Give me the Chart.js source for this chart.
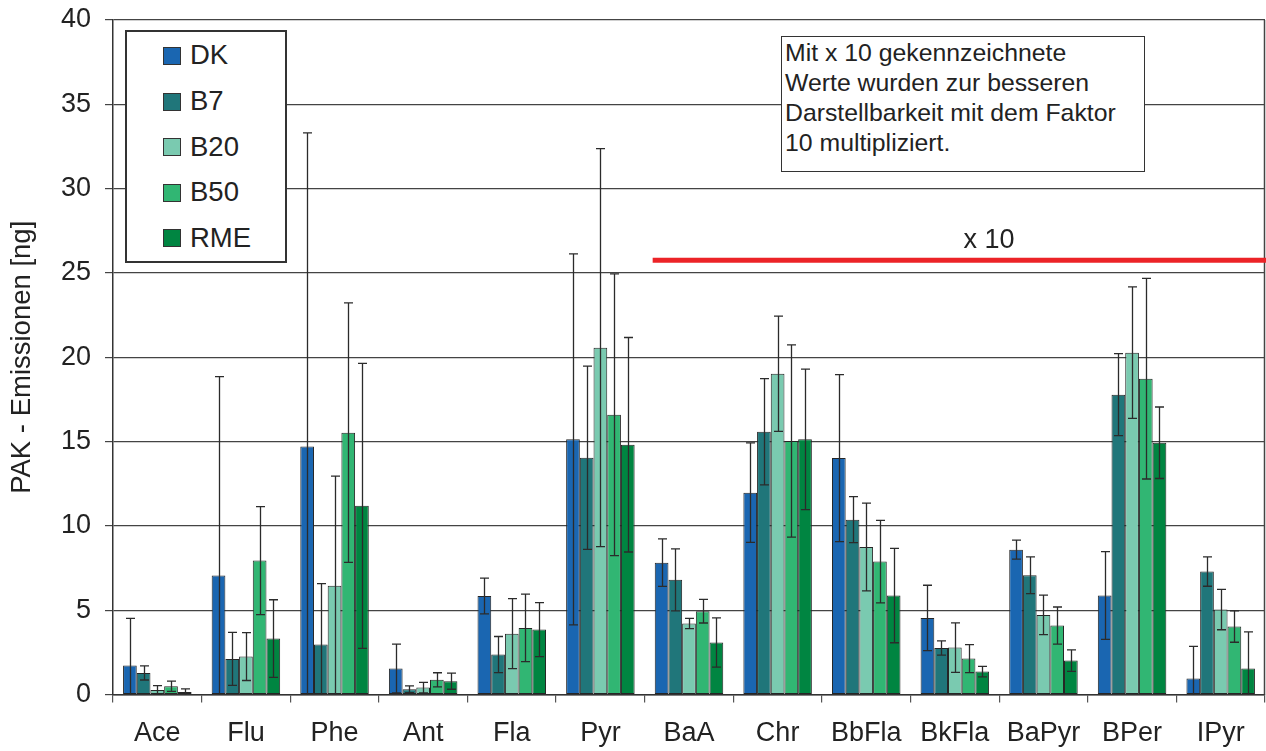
<!DOCTYPE html>
<html>
<head>
<meta charset="utf-8">
<script src="https://cdn.jsdelivr.net/npm/chart.js@4.4.1/dist/chart.umd.min.js"></script>
<style>
  html,body{margin:0;padding:0;background:#fff;}
  #wrap{position:relative;width:1266px;height:751px;overflow:hidden;font-family:"Liberation Sans",Arial,Helvetica,sans-serif;color:#222;}
  canvas{position:absolute;left:0;top:0;}
  .abs{position:absolute;}
  #legend{left:125px;top:30px;width:162px;height:233px;box-sizing:border-box;border:2px solid #333;background:#fff;}
  .sw{position:absolute;width:18px;height:18px;box-sizing:border-box;border:1px solid #333;}
  .lt{position:absolute;font-size:27.5px;line-height:27px;white-space:nowrap;}
  #note{left:781px;top:36px;width:364px;height:136px;box-sizing:border-box;border:1.5px solid #333;background:#fff;}
  #notetext{left:785px;top:38px;font-size:24.8px;line-height:30px;white-space:nowrap;}
</style>
</head>
<body>
<div id="wrap">
  <canvas id="c" width="1266" height="751"></canvas>
  <div id="legend" class="abs"></div>
  <div id="note" class="abs"></div>
  <div id="notetext" class="abs">Mit x 10 gekennzeichnete<br>Werte wurden zur besseren<br>Darstellbarkeit mit dem Faktor<br>10 multipliziert.</div>
</div>
<script>
// ---- data ----
const categories = ['Ace','Flu','Phe','Ant','Fla','Pyr','BaA','Chr','BbFla','BkFla','BaPyr','BPer','IPyr'];
const seriesNames = ['DK','B7','B20','B50','RME'];
const seriesColors = ['#1a66b1','#20767a','#7acab0','#31b673','#008541'];

const DK  = [1.72, 7.05, 14.71, 1.54, 5.84, 15.13, 7.82, 11.97, 14.02, 4.54, 8.59, 5.87, 0.95];
const B7  = [1.28, 2.11, 2.97, 0.31, 2.37, 14.04, 6.80, 15.58, 10.37, 2.76, 7.07, 17.78, 7.29];
const B20 = [0.27, 2.25, 6.45, 0.41, 3.61, 20.57, 4.21, 19.02, 8.75, 2.78, 4.72, 20.27, 5.04];
const B50 = [0.49, 7.94, 15.53, 0.87, 3.95, 16.59, 4.94, 15.03, 7.88, 2.13, 4.09, 18.73, 4.03];
const RME = [0.15, 3.32, 11.19, 0.79, 3.85, 14.81, 3.08, 15.13, 5.87, 1.36, 2.01, 14.93, 1.54];

const errDK  = [2.80, 11.8, 18.6, 1.45, 1.06, 11.0, 1.41, 2.95, 4.95, 1.94, 0.56, 2.60, 1.90];
const errB7  = [0.42, 1.57, 3.60, 0.20, 1.07, 5.43, 1.84, 3.15, 1.36, 0.42, 1.09, 2.43, 0.87];
const errB20 = [0.26, 1.42, 6.50, 0.31, 2.07, 11.8, 0.30, 3.42, 2.60, 1.47, 1.17, 3.90, 1.20];
const errB50 = [0.30, 3.20, 7.70, 0.42, 2.00, 8.35, 0.70, 5.70, 2.45, 0.83, 1.10, 5.95, 0.93];
const errRME = [0.18, 2.30, 8.45, 0.48, 1.60, 6.36, 1.46, 4.17, 2.80, 0.31, 0.64, 2.12, 2.17];

const yTicks = [0,5,10,15,20,25,30,35,40];
const x10Level = 25.75;          // red marker line level
const x10FromCategory = 6;       // starts at BaA

const values = [DK,B7,B20,B50,RME];
const errors = [errDK,errB7,errB20,errB50,errRME];

const FONT = '"Liberation Sans", Arial, Helvetica, sans-serif';

// ---- legend (HTML) ----
const leg = document.getElementById('legend');
seriesNames.forEach((n,i)=>{
  const top = 47 + 45.6*i;
  const sw = document.createElement('div');
  sw.className='sw abs';
  sw.style.left = (163-127)+'px';
  sw.style.top = (top-32)+'px';
  sw.style.background = seriesColors[i];
  leg.appendChild(sw);
  const t = document.createElement('div');
  t.className='lt';
  t.style.left = (190-127)+'px';
  t.style.top = (top-5.6-32)+'px';
  t.textContent = n;
  leg.appendChild(t);
});

// ---- plugins ----
const overlay = {
  id:'overlay',
  afterDatasetsDraw(chart){
    const ctx = chart.ctx, ys = chart.scales.y, xs = chart.scales.x, a = chart.chartArea;
    ctx.save();
    // error bars
    ctx.strokeStyle = '#2b2b2b';
    ctx.lineWidth = 1.3;
    chart.data.datasets.forEach((ds,i)=>{
      const meta = chart.getDatasetMeta(i);
      meta.data.forEach((bar,j)=>{
        const v = ds.data[j], e = errors[i][j];
        const hi = ys.getPixelForValue(v+e);
        const loV = v-e;
        const lo = ys.getPixelForValue(Math.max(0,loV));
        const cx = Math.round(bar.x)+0.5;
        ctx.beginPath();
        ctx.moveTo(cx,hi); ctx.lineTo(cx,lo);
        ctx.moveTo(cx-4.5,hi); ctx.lineTo(cx+4.5,hi);
        if (loV>0){ ctx.moveTo(cx-4.5,lo); ctx.lineTo(cx+4.5,lo); }
        ctx.stroke();
      });
    });
    // right border of plot
    ctx.strokeStyle = '#444';
    ctx.lineWidth = 1.5;
    ctx.beginPath();
    ctx.moveTo(a.right-0.5, a.top); ctx.lineTo(a.right-0.5, a.bottom);
    ctx.stroke();
    // red "x 10" marker line
    const catW = xs.getPixelForValue(1) - xs.getPixelForValue(0);
    const ry = ys.getPixelForValue(x10Level);
    const rx0 = xs.getPixelForValue(x10FromCategory) - catW*0.41;
    ctx.strokeStyle = '#ec2327';
    ctx.lineWidth = 5;
    ctx.beginPath();
    ctx.moveTo(rx0, ry); ctx.lineTo(chart.width, ry);
    ctx.stroke();
    ctx.fillStyle = '#222';
    ctx.font = '27px ' + FONT;
    ctx.textAlign = 'center';
    ctx.textBaseline = 'alphabetic';
    ctx.fillText('x 10', 989, ry - 12.5);
    ctx.restore();
  }
};

const bg = {
  id:'bg',
  beforeDraw(chart){
    const ctx = chart.ctx;
    ctx.save(); ctx.fillStyle='#fff'; ctx.fillRect(0,0,chart.width,chart.height); ctx.restore();
  }
};

new Chart(document.getElementById('c'), {
  type:'bar',
  data:{
    labels: categories,
    datasets: seriesNames.map((n,i)=>({
      label:n,
      data: values[i],
      backgroundColor: seriesColors[i],
      borderColor:'#262626',
      borderWidth:1,
      borderSkipped:false,
      categoryPercentage:0.773,
      barPercentage:1.0
    }))
  },
  options:{
    responsive:false,
    animation:false,
    devicePixelRatio:1,
    layout:{padding:{top:20,right:1,left:0,bottom:0}},
    plugins:{legend:{display:false},tooltip:{enabled:false}},
    scales:{
      x:{
        grid:{offset:true,drawOnChartArea:false,drawTicks:true,tickLength:8,color:'#555',lineWidth:1.2},
        border:{display:true,color:'#333',width:1.5},
        ticks:{color:'#222',font:{family:FONT,size:27},padding:15,maxRotation:0,autoSkip:false},
        afterFit(s){ s.height = 56.5; }
      },
      y:{
        min:0,max:40,
        afterBuildTicks(s){ s.ticks = yTicks.map(v=>({value:v})); },
        grid:{color:'#444',lineWidth:1.2,tickLength:8,drawTicks:true},
        border:{display:true,color:'#333',width:1.5},
        ticks:{color:'#222',font:{family:FONT,size:27,lineHeight:0.4},padding:14},
        title:{display:true,text:'PAK - Emissionen [ng]',color:'#222',font:{family:FONT,size:27.5},padding:{top:6,bottom:0}},
        afterFit(s){ s.width = 113; }
      }
    }
  },
  plugins:[bg,overlay]
});
</script>
</body>
</html>
